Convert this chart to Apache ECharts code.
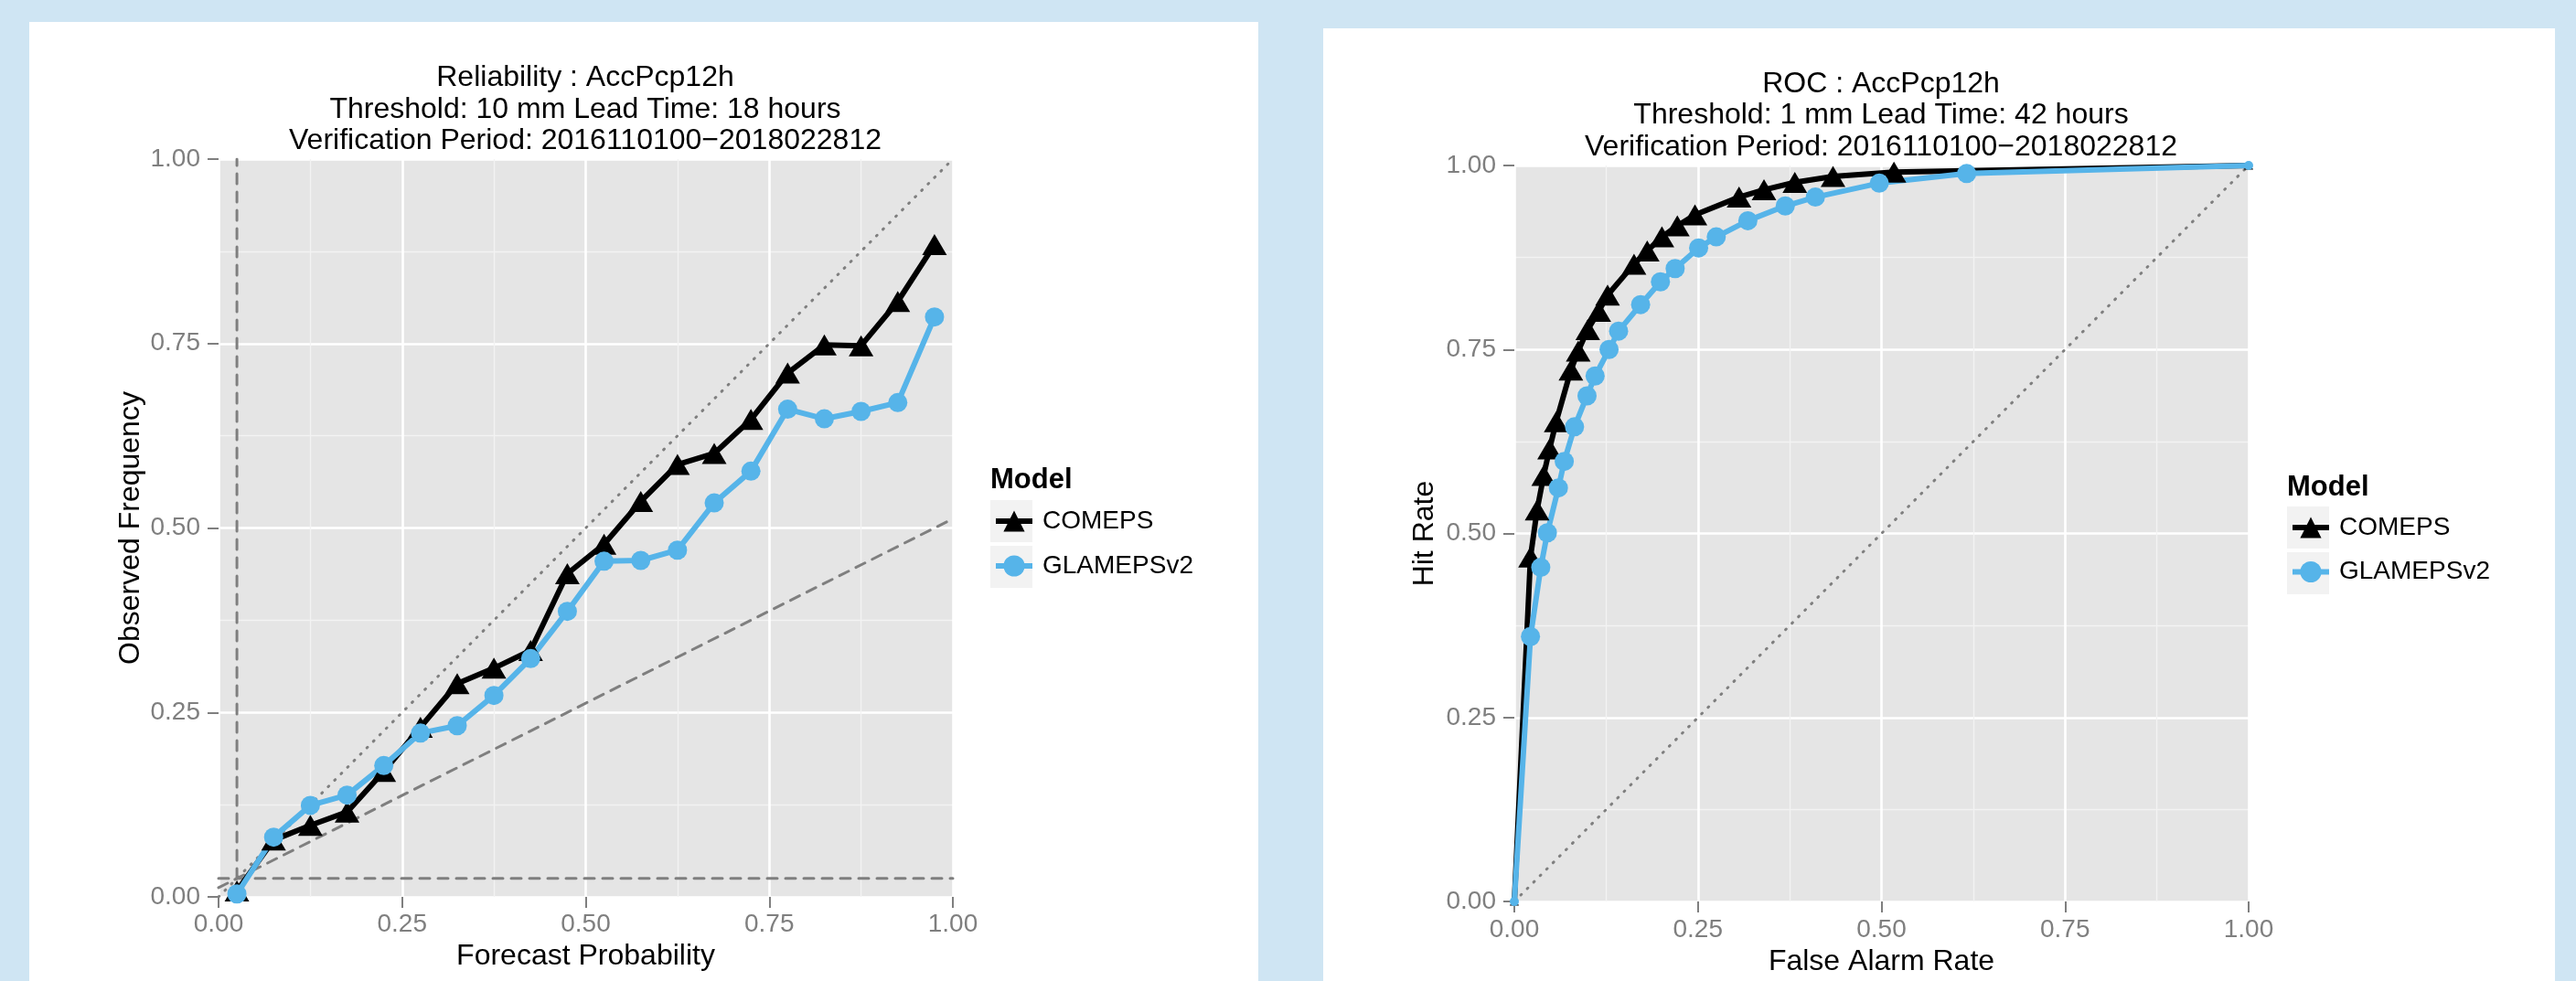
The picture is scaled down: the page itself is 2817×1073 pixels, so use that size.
<!DOCTYPE html>
<html><head><meta charset="utf-8">
<script src="https://cdn.jsdelivr.net/npm/echarts@6/dist/echarts.min.js"></script>
<style>html,body{margin:0;padding:0;background:#cfe5f3;} #c{width:2817px;height:1073px;}</style>
</head><body><div id="c"></div>
<script>
// ---------------- data ----------------
const modelNames = ['COMEPS', 'GLAMEPSv2'];
const tickLabels = ['0.00', '0.25', '0.50', '0.75', '1.00'];
const climFreq = 0.025;

const relTitle = ['Reliability : AccPcp12h', 'Threshold: 10 mm Lead Time: 18 hours', 'Verification Period: 2016110100\u22122018022812'];
const rocTitle = ['ROC : AccPcp12h', 'Threshold: 1 mm Lead Time: 42 hours', 'Verification Period: 2016110100\u22122018022812'];

const relBins = [0.025,0.075,0.125,0.175,0.225,0.275,0.325,0.375,0.425,0.475,0.525,0.575,0.625,0.675,0.725,0.775,0.825,0.875,0.925,0.975];
const relCOMEPS = [0.008,0.077,0.097,0.115,0.170,0.230,0.289,0.310,0.334,0.438,0.478,0.536,0.586,0.601,0.647,0.710,0.748,0.747,0.807,0.884];
const relGLAMEPS = [0.004,0.081,0.124,0.138,0.178,0.222,0.232,0.273,0.323,0.387,0.455,0.456,0.470,0.534,0.577,0.661,0.648,0.658,0.670,0.786];

const rocCOMEPSfar = [0,0.022,0.031,0.040,0.048,0.057,0.077,0.087,0.100,0.115,0.127,0.163,0.181,0.201,0.222,0.246,0.306,0.340,0.382,0.434,0.517,1];
const rocCOMEPShr  = [0,0.468,0.532,0.579,0.615,0.652,0.722,0.748,0.777,0.802,0.824,0.866,0.884,0.903,0.918,0.933,0.957,0.967,0.977,0.985,0.991,1];
const rocGLAMEPSfar = [0,0.022,0.036,0.045,0.060,0.068,0.082,0.099,0.110,0.129,0.142,0.172,0.199,0.219,0.251,0.275,0.318,0.369,0.410,0.497,0.616,1];
const rocGLAMEPShr  = [0,0.360,0.454,0.501,0.562,0.598,0.645,0.687,0.714,0.750,0.775,0.811,0.842,0.860,0.888,0.903,0.925,0.945,0.957,0.976,0.989,1];

// ---------------- style ----------------
const FONT = '"Liberation Sans", Arial, Helvetica, sans-serif';
const BLACK = '#000000', BLUE = '#56B4E9', GREY = '#7f7f7f';
const LW = 6;

const zip = (a, b) => a.map((v, i) => [v, b[i]]);

function mkAxis(gridIndex, name, nameGap, labelMargin) {
  return {
    type: 'value', gridIndex, min: 0, max: 1, interval: 0.25,
    name, nameLocation: 'middle', nameGap,
    nameTextStyle: { color: '#000', fontSize: 32, fontFamily: FONT },
    axisLine: { show: false },
    axisTick: { show: true, length: 12, lineStyle: { color: GREY, width: 2 } },
    axisLabel: { color: GREY, fontSize: 28, fontFamily: FONT, margin: labelMargin,
                 formatter: v => tickLabels[Math.round(v * 4)] },
    splitLine: { show: true, lineStyle: { color: '#ffffff', width: 2.6 } },
    minorTick: { show: false, splitNumber: 2 },
    minorSplitLine: { show: true, lineStyle: { color: '#f3f3f3', width: 1.3 } }
  };
}

function refLine(idx, data, dash, width) {
  return { type: 'line', xAxisIndex: idx, yAxisIndex: idx, data, symbol: 'none', silent: true,
           lineStyle: { color: GREY, width, type: dash, cap: 'round' }, z: 1, legendHoverLink: false };
}

function modelSeries(idx, name, data, isTri, endSmall) {
  const n = data.length;
  return {
    type: 'line', name, xAxisIndex: idx, yAxisIndex: idx, data,
    symbol: isTri ? 'triangle' : 'circle',
    symbolSize: (v, p) => {
      if (endSmall && (p.dataIndex === 0 || p.dataIndex === n - 1)) return isTri ? [10, 9] : 10;
      return isTri ? [27, 23] : 21;
    },
    showSymbol: true, showAllSymbol: true,
    lineStyle: { color: isTri ? BLACK : BLUE, width: LW },
    itemStyle: { color: isTri ? BLACK : BLUE, borderWidth: 0 },
    z: 3, animation: false, clip: true
  };
}

const chart = echarts.init(document.getElementById('c'), null, { renderer: 'canvas' });

const diag = [[0, 0], [1, 1]];
const noSkill = [[0, climFreq / 2], [1, (1 + climFreq) / 2]];
const vLine = [[climFreq, 0], [climFreq, 1]];
const hLine = [[0, climFreq], [1, climFreq]];

function titleText(lines, x, yc) {
  return { type: 'text', x, y: yc, z: 10,
    style: { text: lines.join('\n'), fill: '#000', font: '32px ' + FONT, lineHeight: 34.5,
             align: 'center', verticalAlign: 'middle' } };
}
function keyBox(x, y) {
  return { type: 'rect', shape: { x, y, width: 46, height: 46 }, style: { fill: '#f2f2f2' }, z: -5 };
}
function legendCfg(left, top, gap) {
  return { data: modelNames, orient: 'vertical', left, top, padding: 0, itemWidth: 40, itemHeight: 29, itemGap: gap,
           lineStyle: { width: LW }, selectedMode: false,
           textStyle: { fontSize: 28, fontFamily: FONT, color: '#000', padding: [0, 0, 0, 6] } };
}

const option = {
  backgroundColor: '#cfe5f3',
  animation: false,
  grid: [
    { left: 239, top: 174, width: 803, height: 807, show: true, backgroundColor: '#e5e5e5', borderWidth: 0 },
    { left: 1656, top: 181, width: 803, height: 807, show: true, backgroundColor: '#e5e5e5', borderWidth: 0 }
  ],
  xAxis: [mkAxis(0, 'Forecast Probability', 46, 16), mkAxis(1, 'False Alarm Rate', 47, 17)],
  yAxis: [mkAxis(0, 'Observed Frequency', 80, 20), mkAxis(1, 'Hit Rate', 82, 20)],
  legend: [legendCfg(1086, 556, 21), legendCfg(2504, 563, 20.5)],
  graphic: [
    { type: 'rect', shape: { x: 32, y: 24, width: 1344, height: 1100 }, style: { fill: '#ffffff' }, z: -10 },
    { type: 'rect', shape: { x: 1447, y: 31, width: 1347, height: 1100 }, style: { fill: '#ffffff' }, z: -10 },
    titleText(relTitle, 640, 120),
    titleText(rocTitle, 2057, 126.5),
    { type: 'text', x: 1083, y: 525, style: { text: 'Model', font: 'bold 31px ' + FONT, fill: '#000', verticalAlign: 'middle' } },
    { type: 'text', x: 2501, y: 533, style: { text: 'Model', font: 'bold 31px ' + FONT, fill: '#000', verticalAlign: 'middle' } },
    keyBox(1083, 547), keyBox(1083, 597), keyBox(2501, 554), keyBox(2501, 604)
  ],
  series: [
    refLine(0, diag, [1, 9], 3),
    refLine(0, noSkill, [11, 9], 3),
    refLine(0, vLine, [11, 9], 3),
    refLine(0, hLine, [11, 9], 3),
    modelSeries(0, modelNames[0], zip(relBins, relCOMEPS), true, false),
    modelSeries(0, modelNames[1], zip(relBins, relGLAMEPS), false, false),
    refLine(1, diag, [1, 9], 3),
    modelSeries(1, modelNames[0], zip(rocCOMEPSfar, rocCOMEPShr), true, true),
    modelSeries(1, modelNames[1], zip(rocGLAMEPSfar, rocGLAMEPShr), false, true)
  ]
};
chart.setOption(option);
</script></body></html>
